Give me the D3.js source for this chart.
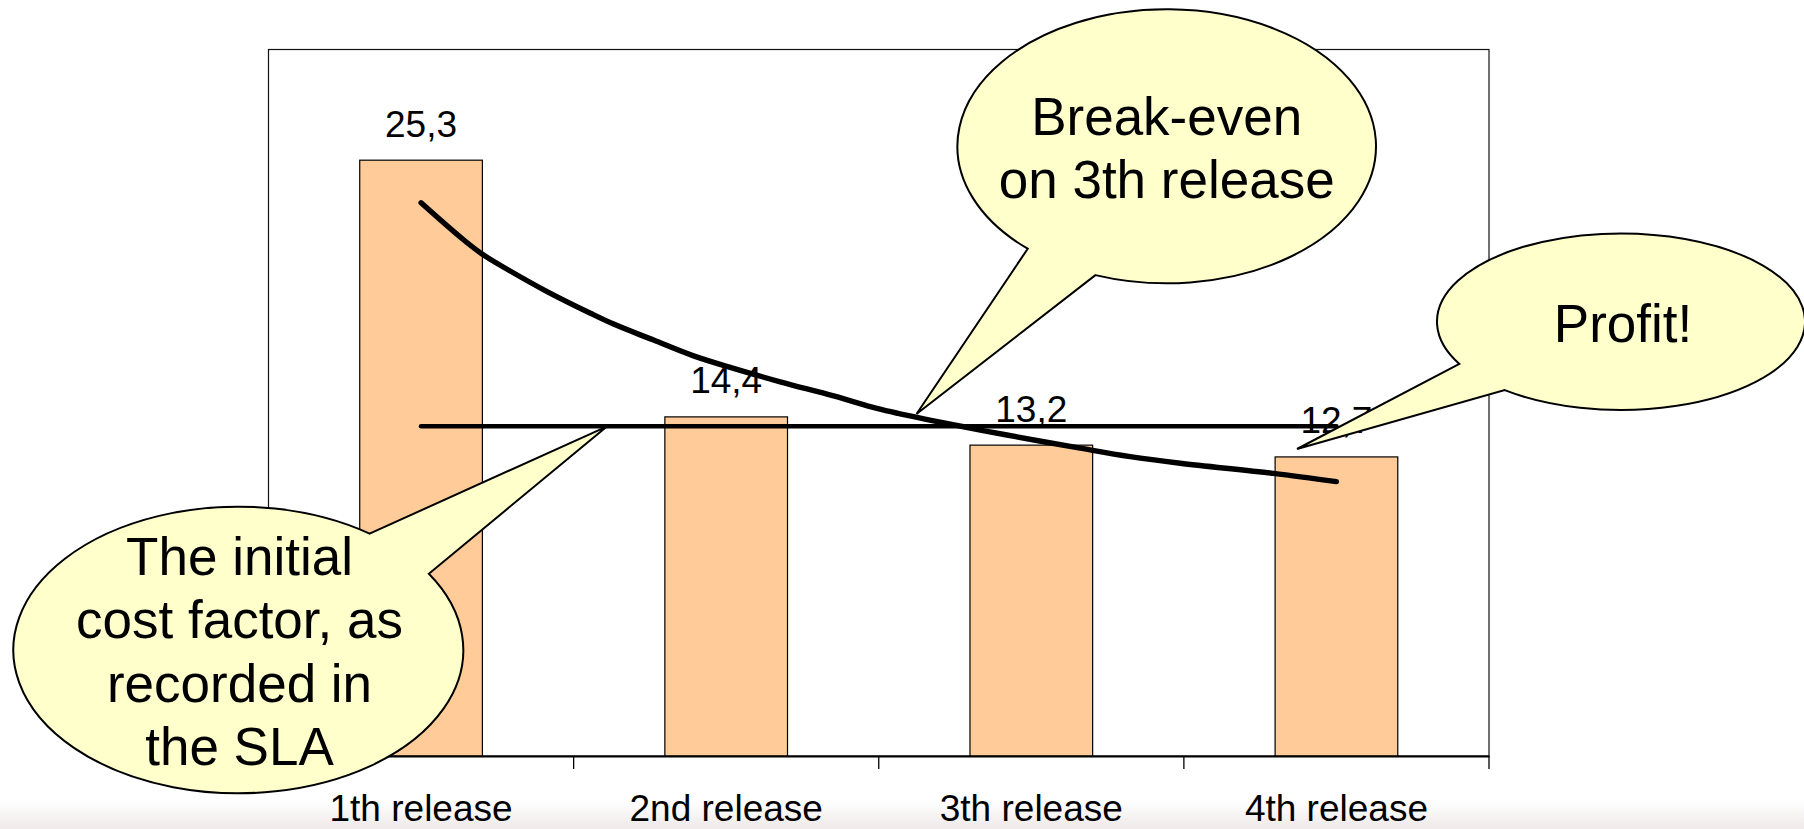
<!DOCTYPE html>
<html>
<head>
<meta charset="utf-8">
<script src="https://cdn.jsdelivr.net/npm/d3@7"></script>
<style>
  html, body { margin: 0; padding: 0; background: #fff; }
  svg { display: block; }
  text { font-family: "Liberation Sans", Arial, sans-serif; fill: #000; }
</style>
</head>
<body>
<div id="chart"></div>
<script>
// ---- data ----
const categories = ["1th release", "2nd release", "3th release", "4th release"];
const costValues = [25.3, 14.4, 13.2, 12.7];
const valueLabels = ["25,3", "14,4", "13,2", "12,7"];
const slaLevel = 14;
// hand-drawn cost curve (x in release positions 0..3)
const trendPos = [0.0, 0.14, 0.205, 0.282, 0.413, 0.555, 0.631, 0.762, 0.893, 1.024, 1.177, 1.352, 1.494, 1.563, 1.778, 1.92, 2.16, 2.324, 2.488, 2.793, 3.0];
const trendVal = [23.49, 21.91, 21.27, 20.67, 19.72, 18.8, 18.34, 17.66, 16.99, 16.46, 15.89, 15.29, 14.76, 14.55, 13.98, 13.63, 13.07, 12.71, 12.43, 12.0, 11.65];
const calloutTexts = [
  ["The initial", "cost factor, as", "recorded in", "the SLA"],
  ["Break-even", "on 3th release"],
  ["Profit!"]
];

// ---- layout ----
const W = 1804, H = 829;
const plot = { left: 268.5, right: 1489, top: 49.5, bottom: 756 };

const svg = d3.select("#chart").append("svg").attr("width", W).attr("height", H);

// faint shadow band at the bottom of the screenshot
const defs = svg.append("defs");
const grad = defs.append("linearGradient").attr("id", "bottomShade").attr("x1", 0).attr("y1", 0).attr("x2", 0).attr("y2", 1);
grad.append("stop").attr("offset", "0%").attr("stop-color", "#ffffff");
grad.append("stop").attr("offset", "100%").attr("stop-color", "#efe9e9");
svg.append("rect").attr("x", 0).attr("y", 800).attr("width", W).attr("height", H - 800).attr("fill", "url(#bottomShade)");

const x = d3.scaleBand().domain(categories).range([plot.left, plot.right]).paddingInner(0).paddingOuter(0);
const y = d3.scaleLinear().domain([0, 30]).range([plot.bottom, plot.top]);
const xPos = d3.scaleLinear().domain([0, categories.length - 1])
  .range([x(categories[0]) + x.bandwidth() / 2, x(categories[categories.length - 1]) + x.bandwidth() / 2]);

const barW = x.bandwidth() * 0.402;

// plot frame
svg.append("rect")
  .attr("x", plot.left).attr("y", plot.top)
  .attr("width", plot.right - plot.left).attr("height", plot.bottom - plot.top)
  .attr("fill", "none").attr("stroke", "#111").attr("stroke-width", 1.2);

// bars
svg.append("g").selectAll("rect").data(costValues).join("rect")
  .attr("x", (d, i) => x(categories[i]) + x.bandwidth() / 2 - barW / 2)
  .attr("y", d => y(d))
  .attr("width", barW)
  .attr("height", d => y(0) - y(d))
  .attr("fill", "#FFCC99")
  .attr("stroke", "#000")
  .attr("stroke-width", 1.2);

// x axis
const axis = d3.axisBottom(x).tickSize(0).tickPadding(0).tickFormat(() => "");
const gAxis = svg.append("g").attr("transform", `translate(0,${plot.bottom})`).call(axis);
gAxis.select(".domain").attr("stroke", "#000").attr("stroke-width", 2);
// tick marks at band boundaries
const edges = categories.map(c => x(c)).concat([plot.right]);
gAxis.selectAll("line.edge").data(edges).join("line").attr("class", "edge")
  .attr("x1", d => d).attr("x2", d => d).attr("y1", 0).attr("y2", 13)
  .attr("stroke", "#000").attr("stroke-width", 1.3);
// category labels
svg.append("g").selectAll("text").data(categories).join("text")
  .attr("x", d => x(d) + x.bandwidth() / 2)
  .attr("y", 821)
  .attr("text-anchor", "middle")
  .attr("font-size", 37)
  .text(d => d);

// value labels
svg.append("g").selectAll("text").data(costValues).join("text")
  .attr("x", (d, i) => x(categories[i]) + x.bandwidth() / 2)
  .attr("y", d => y(d) - 23.5)
  .attr("text-anchor", "middle")
  .attr("font-size", 37)
  .text((d, i) => valueLabels[i]);

// SLA level line
svg.append("line")
  .attr("x1", xPos(0)).attr("x2", xPos(categories.length - 1))
  .attr("y1", y(slaLevel)).attr("y2", y(slaLevel))
  .attr("stroke", "#000").attr("stroke-width", 4.6).attr("stroke-linecap", "round");

// hand-drawn trend curve
const trend = trendPos.map((p, i) => [p, trendVal[i]]);
svg.append("path")
  .datum(trend)
  .attr("d", d3.line().x(d => xPos(d[0])).y(d => y(d[1])).curve(d3.curveCatmullRom.alpha(0.5)))
  .attr("fill", "none").attr("stroke", "#000").attr("stroke-width", 5.4)
  .attr("stroke-linecap", "round").attr("stroke-linejoin", "round");

// ---- callouts (speech bubbles) ----
const callouts = [
  { cx: 238.3, cy: 650, rx: 225, ry: 143.3, b1: [370, 533.3], b2: [428.3, 574], tip: [xPos(0.61), y(slaLevel)],
    tx: 239.5, ty: 575, lh: 63.3 },
  { cx: 1166.7, cy: 146.3, rx: 209.3, ry: 137, b1: [1028.3, 248.3], b2: [1096, 274], tip: [916.5, 414],
    tx: 1166.7, ty: 135, lh: 63.3 },
  { cx: 1621, cy: 321.7, rx: 184, ry: 88.3, b1: [1461.7, 363.3], b2: [1505, 390], tip: [1297, 449],
    tx: 1623, ty: 341.5, lh: 63.3 }
];

function bubblePath(c) {
  const proj = p => {
    const a = Math.atan2((p[1] - c.cy) / c.ry, (p[0] - c.cx) / c.rx);
    return { a, x: c.cx + c.rx * Math.cos(a), y: c.cy + c.ry * Math.sin(a) };
  };
  const p1 = proj(c.b1), p2 = proj(c.b2);
  const twoPi = Math.PI * 2;
  const d = ((p1.a - p2.a) % twoPi + twoPi) % twoPi; // clockwise distance p2 -> p1
  const sweep = d > Math.PI ? 1 : 0;
  return `M${p1.x},${p1.y} L${c.tip[0]},${c.tip[1]} L${p2.x},${p2.y} ` +
         `A${c.rx},${c.ry} 0 1 ${sweep} ${p1.x},${p1.y} Z`;
}

const gCall = svg.append("g");
callouts.forEach((c, i) => {
  gCall.append("path")
    .attr("d", bubblePath(c))
    .attr("fill", "#FFFFCC")
    .attr("stroke", "#000")
    .attr("stroke-width", 2)
    .attr("stroke-linejoin", "miter");
  gCall.append("g").selectAll("text").data(calloutTexts[i]).join("text")
    .attr("x", c.tx)
    .attr("y", (d, j) => c.ty + j * c.lh)
    .attr("text-anchor", "middle")
    .attr("font-size", 53)
    .text(d => d);
});
</script>
</body>
</html>
